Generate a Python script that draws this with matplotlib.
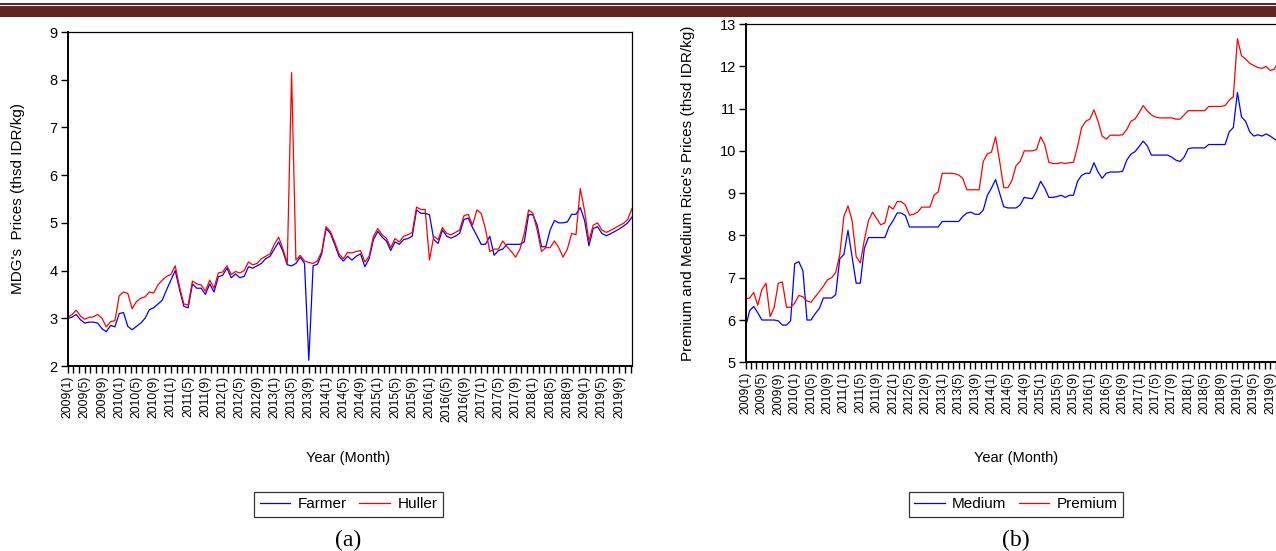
import matplotlib
matplotlib.use("Agg")
import matplotlib.pyplot as plt
import matplotlib.patches as patches
import numpy as np

plt.rcParams['font.family'] = ['Liberation Sans', 'DejaVu Sans']

# monthly data, 2009(1) .. 2019(12)
farmer = [3.00, 3.02, 3.08, 2.97, 2.90, 2.92, 2.92, 2.90, 2.78, 2.72,
          2.85, 2.82, 3.10, 3.12, 2.83, 2.76, 2.83, 2.90, 3.00, 3.18,
          3.22, 3.30, 3.38, 3.60, 3.80, 4.00, 3.60, 3.25, 3.22, 3.72,
          3.63, 3.63, 3.50, 3.72, 3.55, 3.87, 3.90, 4.05, 3.85, 3.93,
          3.85, 3.88, 4.08, 4.05, 4.10, 4.15, 4.25, 4.30, 4.45, 4.60,
          4.40, 4.12, 4.10, 4.15, 4.28, 4.15, 2.12, 4.10, 4.13, 4.35,
          4.88, 4.78, 4.55, 4.30, 4.20, 4.30, 4.22, 4.30, 4.35, 4.08,
          4.25, 4.65, 4.82, 4.70, 4.62, 4.42, 4.60, 4.55, 4.65, 4.67,
          4.72, 5.27, 5.20, 5.20, 5.17, 4.65, 4.57, 4.85, 4.72, 4.68,
          4.72, 4.78, 5.07, 5.10, 4.90, 4.73, 4.55, 4.55, 4.72, 4.32,
          4.42, 4.45, 4.55, 4.55, 4.55, 4.55, 4.60, 5.17, 5.17, 4.95,
          4.50, 4.50, 4.85, 5.05, 5.00, 5.00, 5.02, 5.18, 5.18, 5.32,
          5.05, 4.52, 4.88, 4.92, 4.78, 4.73, 4.77, 4.82, 4.87, 4.93,
          5.00, 5.12]
huller = [3.03, 3.07, 3.17, 3.05, 2.98, 3.02, 3.03, 3.08, 3.00, 2.82,
          2.93, 2.95, 3.47, 3.55, 3.52, 3.20, 3.35, 3.42, 3.45, 3.55,
          3.53, 3.70, 3.80, 3.88, 3.92, 4.10, 3.65, 3.30, 3.28, 3.78,
          3.72, 3.70, 3.57, 3.80, 3.63, 3.95, 3.97, 4.10, 3.92, 3.98,
          3.95, 4.00, 4.18, 4.12, 4.15, 4.25, 4.30, 4.35, 4.55, 4.70,
          4.45, 4.15, 8.15, 4.22, 4.32, 4.20, 4.17, 4.15, 4.20, 4.40,
          4.92, 4.82, 4.60, 4.35, 4.25, 4.38, 4.37, 4.40, 4.42, 4.18,
          4.30, 4.72, 4.88, 4.75, 4.68, 4.48, 4.67, 4.60, 4.72, 4.75,
          4.80, 5.33, 5.28, 5.28, 4.22, 4.72, 4.65, 4.90, 4.78, 4.75,
          4.80, 4.85, 5.15, 5.18, 4.95, 5.27, 5.20, 4.87, 4.40, 4.45,
          4.45, 4.62, 4.50, 4.40, 4.28, 4.45, 4.78, 5.27, 5.20, 4.85,
          4.40, 4.48, 4.48, 4.62, 4.48, 4.28, 4.45, 4.78, 4.75, 5.72,
          5.25, 4.62, 4.95, 5.00, 4.85, 4.80, 4.84, 4.89, 4.94, 4.99,
          5.07, 5.30]

medium = [5.82, 6.22, 6.32, 6.17, 6.00, 6.00, 6.00, 6.00, 5.98, 5.88,
          5.88, 5.98, 7.33, 7.38, 7.17, 6.00, 6.00, 6.15, 6.27, 6.52,
          6.52, 6.52, 6.60, 7.45, 7.55, 8.12, 7.50, 6.87, 6.87, 7.70,
          7.95, 7.95, 7.95, 7.95, 7.95, 8.20, 8.35, 8.53, 8.53, 8.47,
          8.20, 8.20, 8.20, 8.20, 8.20, 8.20, 8.20, 8.20, 8.33, 8.33,
          8.33, 8.33, 8.33, 8.45, 8.53, 8.55, 8.50, 8.50, 8.60, 8.95,
          9.12, 9.32, 9.00, 8.68, 8.65, 8.65, 8.65, 8.72, 8.90, 8.88,
          8.87, 9.05, 9.28, 9.12, 8.90, 8.90, 8.92, 8.95, 8.90, 8.95,
          8.95, 9.28, 9.42, 9.47, 9.47, 9.72, 9.50, 9.35, 9.47, 9.50,
          9.50, 9.50, 9.52, 9.78, 9.92, 9.98, 10.10, 10.23, 10.12, 9.90,
          9.90, 9.90, 9.90, 9.90, 9.85, 9.78, 9.75, 9.85, 10.05, 10.07,
          10.07, 10.07, 10.07, 10.15, 10.15, 10.15, 10.15, 10.15, 10.45, 10.55,
          11.38, 10.80, 10.70, 10.45, 10.35, 10.38, 10.35, 10.40, 10.35, 10.28,
          10.22, 10.20]
premium = [6.50, 6.52, 6.65, 6.35, 6.72, 6.87, 6.08, 6.30, 6.87, 6.90,
           6.30, 6.30, 6.40, 6.58, 6.55, 6.45, 6.42, 6.55, 6.67, 6.80,
           6.95, 7.00, 7.12, 7.55, 8.45, 8.70, 8.35, 7.50, 7.35, 7.90,
           8.35, 8.55, 8.40, 8.25, 8.30, 8.70, 8.62, 8.80, 8.80, 8.72,
           8.48, 8.50, 8.55, 8.67, 8.67, 8.67, 8.95, 9.03, 9.47, 9.47,
           9.47, 9.46, 9.43, 9.35, 9.08, 9.08, 9.08, 9.08, 9.75, 9.93,
           9.97, 10.33, 9.75, 9.13, 9.13, 9.30, 9.65, 9.75, 10.00, 10.00,
           10.00, 10.03, 10.33, 10.15, 9.73, 9.70, 9.70, 9.72, 9.70, 9.72,
           9.73, 10.10, 10.55, 10.70, 10.75, 10.97, 10.70, 10.35, 10.28, 10.37,
           10.37, 10.37, 10.38, 10.50, 10.70, 10.75, 10.90, 11.07, 10.95, 10.85,
           10.80, 10.78, 10.78, 10.78, 10.78, 10.75, 10.75, 10.85, 10.95, 10.95,
           10.95, 10.95, 10.95, 11.05, 11.05, 11.05, 11.05, 11.07, 11.20, 11.28,
           12.65, 12.25, 12.17, 12.07, 12.02, 11.97, 11.95, 12.00, 11.90, 11.93,
           12.10, 12.10]

labels_a = ["2009(1)", "2009(5)", "2009(9)", "2010(1)", "2010(5)", "2010(9)",
            "2011(1)", "2011(5)", "2011(9)", "2012(1)", "2012(5)", "2012(9)",
            "2013(1)", "2013(5)", "2013(9)", "2014(1)", "2014(5)", "2014(9)",
            "2015(1)", "2015(5)", "2015(9)", "2016(1)", "2016((5)", "2016((9)",
            "2017(1)", "2017(5)", "2017(9)", "2018(1)", "2018(5)", "2018(9)",
            "2019(1)", "2019(5)", "2019(9)"]
labels_b = ["2009(1)", "2009(5)", "2009(9)", "2010(1)", "2010(5)", "2010(9)",
            "2011(1)", "2011(5)", "2011(9)", "2012(1)", "2012(5)", "2012(9)",
            "2013(1)", "2013(5)", "2013(9)", "2014(1)", "2014(5)", "2014(9)",
            "2015(1)", "2015(5)", "2015(9)", "2016(1)", "2016(5)", "2016(9)",
            "2017(1)", "2017(5)", "2017(9)", "2018(1)", "2018(5)", "2018(9)",
            "2019(1)", "2019(5)", "2019(9)"]

fig = plt.figure(figsize=(12.76, 5.51), dpi=100)

# header bar
fig.add_artist(patches.Rectangle((0, 1 - 4.6 / 551), 1, 1.4 / 551, transform=fig.transFigure,
                                 color='#622423', lw=0))
fig.add_artist(patches.Rectangle((0, 1 - 16.5 / 551), 1, 10.5 / 551, transform=fig.transFigure,
                                 color='#622423', lw=0))


def panel(rect, s1, s2, names, labels, ylim, ylabel, ylab_x, legend_x, letter):
    ax = fig.add_axes(rect)
    n = len(s1)
    x = np.arange(n)
    h1, = ax.plot(x, s1, color='#0000FF', lw=0.9)
    h2, = ax.plot(x, s2, color='#FF0000', lw=0.9)
    ax.set_xlim(0, n - 1)
    ax.set_ylim(*ylim)
    ax.set_yticks(range(ylim[0], ylim[1] + 1))
    ax.set_xticks(np.arange(0, n, 4))
    ax.set_xticklabels(labels, rotation=90, fontsize=8.8)
    ax.set_xticks(np.arange(0, n, 4 / 3), minor=True)
    ax.tick_params(axis='x', which='both', direction='out', length=5, width=1, pad=2)
    ax.tick_params(axis='y', direction='out', length=5, width=1, labelsize=10.5, pad=2)
    for side in ['left', 'bottom']:
        ax.spines[side].set_linewidth(1.4)
    for side in ['top', 'right']:
        ax.spines[side].set_linewidth(0.9)
    fig.text(ylab_x, rect[1] + rect[3] / 2, ylabel, rotation=90, ha='center', va='center', fontsize=11)
    fig.text(legend_x, 1 - 458 / 551, "Year (Month)", ha='center', va='center', fontsize=10.5)
    leg = fig.legend([h1, h2], names, loc='center', bbox_to_anchor=(legend_x, 1 - 504.5 / 551),
                     ncol=2, fontsize=11, frameon=True, fancybox=False, edgecolor='black',
                     handlelength=2.0, handletextpad=0.5, columnspacing=0.8, borderpad=0.35,
                     borderaxespad=0)
    leg.get_frame().set_linewidth(0.9)
    fig.text(legend_x, 1 - 540 / 551, letter, ha='center', va='center', fontsize=17,
             family='Liberation Serif')
    return ax


panel([67.5 / 1276, 1 - 366 / 551, 564.5 / 1276, 334 / 551], farmer, huller,
      ["Farmer", "Huller"], labels_a, (2, 9), "MDG's  Prices (thsd IDR/kg)",
      18 / 1276, 348.5 / 1276, "(a)")
panel([745.5 / 1276, 1 - 362.3 / 551, 537 / 1276, 338.3 / 551], medium, premium,
      ["Medium", "Premium"], labels_b, (5, 13), "Premium and Medium Rice's Prices (thsd IDR/kg)",
      688 / 1276, 1016 / 1276, "(b)")

fig.savefig("out.png", dpi=100)
